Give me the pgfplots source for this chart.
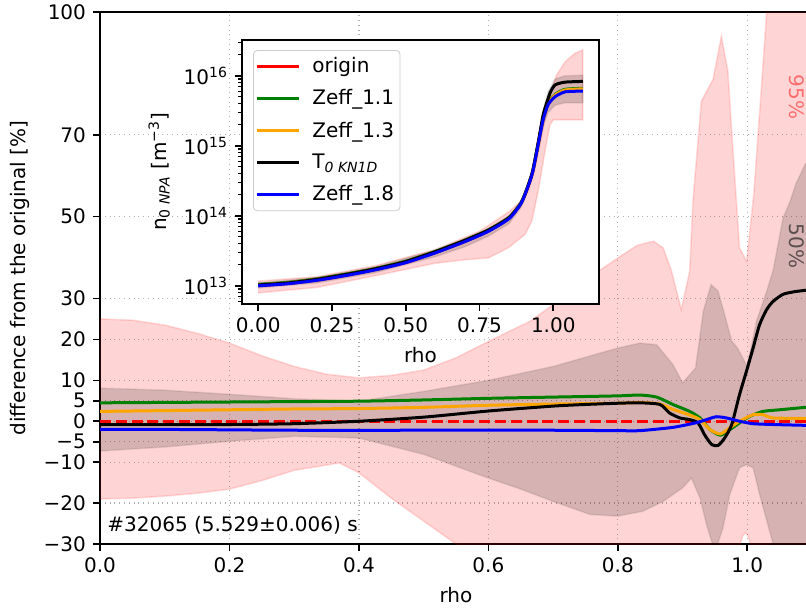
\documentclass[border=0pt]{standalone}
\usepackage{fontspec}
\setmainfont{DejaVu Sans}
\usepackage{pgfplots}
\pgfplotsset{compat=1.18}
\definecolor{mgreen}{RGB}{0,128,0}
\definecolor{morange}{RGB}{255,165,0}
\definecolor{gridc}{RGB}{176,176,176}
\definecolor{txtred}{RGB}{255,110,110}
\definecolor{txtgray}{RGB}{90,78,78}
\begin{document}
\begin{tikzpicture}
\begin{axis}[
  at={(0,0)}, anchor=south west,
  scale only axis, width=356pt, height=266pt,
  xmin=0, xmax=1.1, ymin=-30, ymax=100,
  tick pos=left, tick align=outside,
  major tick length=3.5pt,
  every tick/.style={black, line width=0.8pt},
  axis line style={line width=0.8pt},
  xtick={0,0.2,0.4,0.6,0.8,1.0},
  xticklabels={0.0,0.2,0.4,0.6,0.8,1.0},
  ytick={-30,-20,-10,-5,0,5,10,20,30,50,70,100},
  yticklabels={−30,−20,−10,−5,0,5,10,20,30,50,70,100},
  grid=major, grid style={dotted, gridc, line width=0.6pt},
  xlabel={rho}, ylabel={difference from the original [\%]},
]
% 95% band
\addplot[fill=red, fill opacity=0.17, draw=red, draw opacity=0.12, line width=0.8pt] table[row sep=\\] {
x y\\
0 25\\ 0.05 24.7\\ 0.1 23.5\\ 0.15 21.5\\ 0.2 19.1\\ 0.25 16.0\\ 0.3 13.4\\ 0.35 11.5\\ 0.4 10.6\\ 0.45 11.2\\ 0.5 12.5\\ 0.55 15.5\\ 0.6 19.5\\ 0.664 24.4\\ 0.7 28.5\\ 0.75 34.5\\ 0.8 39.9\\ 0.83 43\\ 0.855 44\\ 0.87 42.4\\ 0.883 36.7\\ 0.898 27.3\\ 0.911 36.7\\ 0.916 53.8\\ 0.929 78.2\\ 0.947 83.5\\ 0.96 94.1\\ 0.97 85.6\\ 0.978 66\\ 0.988 42.4\\ 0.999 39.1\\ 1.01 55.5\\ 1.02 77.5\\ 1.03 100\\ 1.04 130\\ 1.1 130\\
1.1 -45\\ 1.02 -45\\ 1.005 -30\\ 1.001 -28\\ 0.997 -27.2\\ 0.993 -28\\ 0.989 -30\\ 0.98 -45\\ 0.7 -45\\ 0.6 -36\\ 0.55 -30\\ 0.5 -24.4\\ 0.45 -18.8\\ 0.4 -12.6\\ 0.37 -10.2\\ 0.3 -12.0\\ 0.25 -14.5\\ 0.2 -16.6\\ 0.15 -17.6\\ 0.1 -18.3\\ 0.05 -18.8\\ 0 -19\\
};
% 50% band
\addplot[fill=black, fill opacity=0.16, draw=black, draw opacity=0.08, line width=0.8pt] table[row sep=\\] {
x y\\
0 8.1\\ 0.1 7.6\\ 0.2 6.6\\ 0.3 5.5\\ 0.4 4.9\\ 0.5 7.3\\ 0.6 10.0\\ 0.7 13.4\\ 0.8 17.9\\ 0.834 19.1\\ 0.86 18.7\\ 0.885 13.9\\ 0.9 9.4\\ 0.92 13.0\\ 0.932 26.9\\ 0.944 33.4\\ 0.955 31.8\\ 0.965 26.1\\ 0.976 19.6\\ 0.985 17.9\\ 1.0 13.4\\ 1.014 24.4\\ 1.03 31.8\\ 1.04 37\\ 1.055 49.6\\ 1.066 53.7\\ 1.075 58\\ 1.09 63\\ 1.1 64\\
1.1 -45\\ 1.05 -40\\ 1.04 -30.1\\ 1.019 -17.9\\ 1.009 -11.4\\ 0.9987 -10.6\\ 0.988 -11.4\\ 0.973 -17.9\\ 0.9625 -26.1\\ 0.95 -32\\ 0.937 -25.3\\ 0.927 -18.8\\ 0.9136 -13.9\\ 0.9 -16.3\\ 0.87 -19.6\\ 0.839 -22\\ 0.8 -23.2\\ 0.757 -22.8\\ 0.7 -19.6\\ 0.65 -16.6\\ 0.6 -13.9\\ 0.5 -8.1\\ 0.4 -4.1\\ 0.3 -3.7\\ 0.2 -4.9\\ 0.1 -6.3\\ 0 -7.3\\
};
% origin
\addplot[red, line width=1.5pt, dash pattern=on 5.5pt off 2.4pt] coordinates {(0,0) (1.1,0)};
% Zeff_1.1
\addplot[mgreen, line width=1.5pt, smooth, tension=0.4] table[row sep=\\] {
x y\\
0 4.5\\ 0.1 4.6\\ 0.2 4.7\\ 0.3 4.8\\ 0.4 4.9\\ 0.5 5.2\\ 0.6 5.6\\ 0.7 5.9\\ 0.8 6.2\\ 0.834 6.4\\ 0.86 5.9\\ 0.885 4.1\\ 0.911 2.4\\ 0.927 0.8\\ 0.942 -2.0\\ 0.958 -3.4\\ 0.97 -2.4\\ 0.988 -0.4\\ 1.004 1.2\\ 1.024 2.4\\ 1.05 2.8\\ 1.09 3.4\\ 1.1 3.5\\
};
% Zeff_1.3
\addplot[morange, line width=1.5pt, smooth, tension=0.4] table[row sep=\\] {
x y\\
0 2.4\\ 0.1 2.6\\ 0.2 2.8\\ 0.3 3.0\\ 0.4 3.1\\ 0.5 3.4\\ 0.6 3.9\\ 0.7 4.2\\ 0.8 4.4\\ 0.834 4.6\\ 0.865 4.2\\ 0.885 2.9\\ 0.911 1.5\\ 0.927 0.4\\ 0.942 -2.0\\ 0.958 -3.1\\ 0.973 -1.6\\ 0.988 0.0\\ 1.009 1.6\\ 1.024 1.6\\ 1.04 0.8\\ 1.09 0.7\\ 1.1 0.7\\
};
% T0 KN1D
\addplot[black, line width=1.5pt, smooth, tension=0.4] table[row sep=\\] {
x y\\
0 -0.8\\ 0.1 -0.8\\ 0.2 -0.8\\ 0.3 -0.6\\ 0.4 0.0\\ 0.5 1.0\\ 0.6 2.5\\ 0.7 3.7\\ 0.75 4.1\\ 0.8 4.4\\ 0.834 4.5\\ 0.865 4.1\\ 0.88 2.0\\ 0.896 0.8\\ 0.911 0.4\\ 0.924 -0.4\\ 0.934 -3.3\\ 0.945 -5.7\\ 0.955 -5.9\\ 0.965 -4.1\\ 0.976 -0.8\\ 0.988 6.5\\ 0.9987 12.2\\ 1.009 17.9\\ 1.019 23.6\\ 1.03 27.3\\ 1.04 29.3\\ 1.055 31.0\\ 1.071 31.6\\ 1.09 32.0\\ 1.1 32.1\\
};
% Zeff_1.8
\addplot[blue, line width=1.5pt, smooth, tension=0.4] table[row sep=\\] {
x y\\
0 -2.0\\ 0.1 -2.0\\ 0.2 -2.1\\ 0.3 -2.2\\ 0.5 -2.2\\ 0.6 -2.2\\ 0.7 -2.2\\ 0.8 -2.3\\ 0.834 -2.3\\ 0.885 -1.5\\ 0.92 -0.4\\ 0.937 0.4\\ 0.952 1.1\\ 0.968 0.8\\ 0.988 0.0\\ 1.009 -0.6\\ 1.04 -0.8\\ 1.09 -1.0\\ 1.1 -1.0\\
};
\node[rotate=-90, text=txtred] at (axis cs:1.076,79.2) {95\%};
\node[rotate=-90, text=txtgray] at (axis cs:1.076,42.8) {50\%};
\node[anchor=west, inner sep=0pt] at (axis description cs:0.0098,0.036) {\#32065 (5.529±0.006) s};
\end{axis}
\begin{axis}[
  at={(71pt,120pt)}, anchor=south west,
  scale only axis, width=178.5pt, height=132pt,
  axis background/.style={fill=white},
  xmin=-0.055, xmax=1.155,
  ymode=log, ymin=5.5e12, ymax=3.24e16,
  tick pos=left, tick align=outside,
  major tick length=3.5pt, minor tick length=2pt,
  every major tick/.style={black, line width=0.8pt},
  every minor tick/.style={black, line width=0.6pt},
  axis line style={line width=0.8pt},
  xtick={0,0.25,0.5,0.75,1},
  xticklabels={0.00,0.25,0.50,0.75,1.00},
  ytick={1e13,1e14,1e15,1e16},
  yticklabels={10\textsuperscript{13},10\textsuperscript{14},10\textsuperscript{15},10\textsuperscript{16}},
  minor ytick={6e12,7e12,8e12,9e12,2e13,3e13,4e13,5e13,6e13,7e13,8e13,9e13,2e14,3e14,4e14,5e14,6e14,7e14,8e14,9e14,2e15,3e15,4e15,5e15,6e15,7e15,8e15,9e15,2e16,3e16},
  xlabel={rho}, ylabel={n\textsubscript{0 \textit{NPA}} [m\textsuperscript{−3}]},
  legend style={at={(0.031,0.962)}, anchor=north west, draw=black!20, rounded corners=2pt, fill=white, fill opacity=0.8, text opacity=1, row sep=3pt, inner xsep=1pt, inner ysep=1.5pt},
  legend cell align=left,
  legend image code/.code={\draw[#1, line width=1.5pt] (0pt,0pt) -- (21pt,0pt); \path (25pt,0pt);},
]
\addplot[forget plot, fill=red, fill opacity=0.17, draw=red, draw opacity=0.12, line width=0.8pt] table[row sep=\\] {
x y\\
0 1.17e13\\ 0.2 1.35e13\\ 0.4 1.95e13\\ 0.6 3.3e13\\ 0.75 6.0e13\\ 0.85 1.15e14\\ 0.882 1.51e14\\ 0.916 2.24e14\\ 0.938 4.8e14\\ 0.961 1.45e15\\ 0.983 4.3e15\\ 1.011 1.02e16\\ 1.04 1.58e16\\ 1.073 2.09e16\\ 1.1 2.34e16\\
1.1 2.34e15\\ 1.0 2.34e15\\ 0.989 2.0e15\\ 0.972 8.3e14\\ 0.949 2.24e14\\ 0.927 8.3e13\\ 0.904 5.4e13\\ 0.848 3.5e13\\ 0.78 2.5e13\\ 0.7 2.35e13\\ 0.6 2.1e13\\ 0.4 1.4e13\\ 0.2 9.5e12\\ 0 7.9e12\\
};
\addplot[forget plot, fill=black, fill opacity=0.16, draw=black, draw opacity=0.08, line width=0.8pt] table[row sep=\\] {
x y\\
0 1.10e13\\ 0.2 1.32e13\\ 0.4 1.88e13\\ 0.6 3.25e13\\ 0.7 4.7e13\\ 0.78 6.6e13\\ 0.85 1.0e14\\ 0.89 1.6e14\\ 0.91 2.5e14\\ 0.93 4.6e14\\ 0.95 1.3e15\\ 0.966 3.2e15\\ 0.983 6.0e15\\ 1.006 9.0e15\\ 1.04 1.0e16\\ 1.1 1.02e16\\
1.1 4.1e15\\ 1.04 4.1e15\\ 1.006 3.8e15\\ 0.983 3.0e15\\ 0.966 1.9e15\\ 0.95 9.0e14\\ 0.93 3.7e14\\ 0.91 2.1e14\\ 0.89 1.3e14\\ 0.85 7.7e13\\ 0.78 5.1e13\\ 0.7 3.6e13\\ 0.6 2.6e13\\ 0.4 1.55e13\\ 0.2 1.1e13\\ 0 9.3e12\\
};
\addplot[red, line width=1.5pt, smooth, tension=0.4] table[row sep=\\] {
x y\\
0 1.01e13\\ 0.1 1.08e13\\ 0.2 1.21e13\\ 0.3 1.42e13\\ 0.4 1.72e13\\ 0.5 2.16e13\\ 0.6 2.98e13\\ 0.7 4.3e13\\ 0.78 6.05e13\\ 0.85 9.2e13\\ 0.89 1.49e14\\ 0.91 2.35e14\\ 0.93 4.2e14\\ 0.95 1.11e15\\ 0.966 2.42e15\\ 0.983 3.95e15\\ 1.006 5.1e15\\ 1.04 6.0e15\\ 1.1 6.2e15\\
};
\addlegendentry{origin}
\addplot[mgreen, line width=1.5pt, smooth, tension=0.4] table[row sep=\\] {
x y\\
0 1.05e13\\ 0.1 1.12e13\\ 0.2 1.26e13\\ 0.3 1.48e13\\ 0.4 1.78e13\\ 0.5 2.25e13\\ 0.6 3.1e13\\ 0.7 4.48e13\\ 0.78 6.3e13\\ 0.85 9.5e13\\ 0.89 1.52e14\\ 0.91 2.40e14\\ 0.93 4.3e14\\ 0.95 1.14e15\\ 0.966 2.5e15\\ 0.983 4.1e15\\ 1.006 5.4e15\\ 1.04 6.4e15\\ 1.1 6.6e15\\
};
\addlegendentry{Zeff\_1.1}
\addplot[morange, line width=1.5pt, smooth, tension=0.4] table[row sep=\\] {
x y\\
0 1.03e13\\ 0.1 1.10e13\\ 0.2 1.24e13\\ 0.3 1.45e13\\ 0.4 1.75e13\\ 0.5 2.20e13\\ 0.6 3.04e13\\ 0.7 4.4e13\\ 0.78 6.2e13\\ 0.85 9.35e13\\ 0.89 1.50e14\\ 0.91 2.37e14\\ 0.93 4.25e14\\ 0.95 1.12e15\\ 0.966 2.45e15\\ 0.983 4.0e15\\ 1.006 5.3e15\\ 1.04 6.25e15\\ 1.1 6.5e15\\
};
\addlegendentry{Zeff\_1.3}
\addplot[black, line width=1.5pt, smooth, tension=0.4] table[row sep=\\] {
x y\\
0 1.03e13\\ 0.1 1.10e13\\ 0.2 1.24e13\\ 0.3 1.46e13\\ 0.4 1.76e13\\ 0.5 2.22e13\\ 0.6 3.07e13\\ 0.7 4.45e13\\ 0.78 6.25e13\\ 0.85 9.4e13\\ 0.89 1.50e14\\ 0.91 2.36e14\\ 0.93 4.3e14\\ 0.95 1.18e15\\ 0.966 2.8e15\\ 0.983 4.8e15\\ 0.99 5.8e15\\ 1.006 7.4e15\\ 1.04 8.1e15\\ 1.1 8.3e15\\
};
\addlegendentry{T\textsubscript{\textit{0 KN1D}}}
\addplot[blue, line width=1.5pt, smooth, tension=0.4] table[row sep=\\] {
x y\\
0 1.00e13\\ 0.1 1.07e13\\ 0.2 1.20e13\\ 0.3 1.41e13\\ 0.4 1.70e13\\ 0.5 2.14e13\\ 0.6 2.95e13\\ 0.7 4.27e13\\ 0.78 6.0e13\\ 0.85 9.1e13\\ 0.89 1.48e14\\ 0.91 2.34e14\\ 0.93 4.17e14\\ 0.95 1.10e15\\ 0.966 2.40e15\\ 0.983 3.89e15\\ 1.006 5.01e15\\ 1.04 5.89e15\\ 1.1 6.03e15\\
};
\addlegendentry{Zeff\_1.8}
\end{axis}
\pgfresetboundingbox
\useasboundingbox (-50pt,-31.5pt) rectangle (353pt,272pt);
\end{tikzpicture}
\end{document}
